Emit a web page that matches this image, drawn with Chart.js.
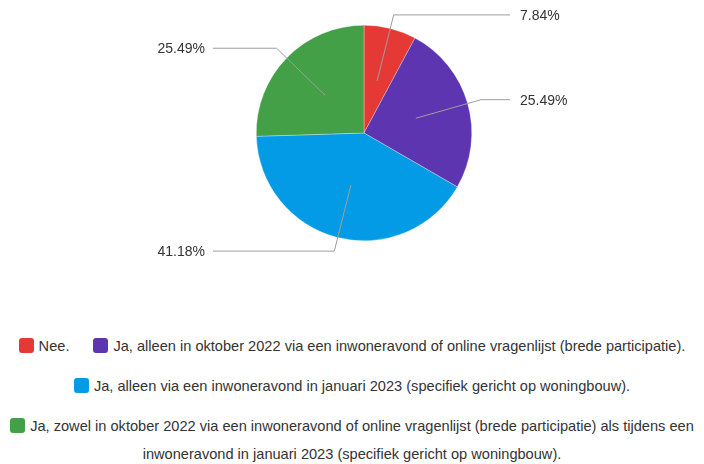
<!DOCTYPE html>
<html>
<head>
<meta charset="utf-8">
<script src="https://cdn.jsdelivr.net/npm/chart.js@4.4.0/dist/chart.umd.min.js"></script>
<style>
  html, body { margin: 0; padding: 0; background: #fff; }
  body { width: 704px; height: 464px; overflow: hidden; font-family: "Liberation Sans", Arial, sans-serif; }
  #wrap { position: relative; width: 704px; height: 266px; }
  #legend { margin-top: 66px; text-align: center; font-size: 14.6px; color: #333; line-height: 28px; }
  .item { display: inline-block; max-width: 100%; margin: 0 12px 12px; vertical-align: top; }
  .item:last-child { margin: 0 2px; max-width: 700px; }
  .box { display: inline-block; width: 15px; height: 15px; border-radius: 3px; vertical-align: -2px; margin-right: 5px; }
</style>
</head>
<body>
<div id="wrap"><canvas id="pieChart"></canvas></div>
<div id="legend"></div>
<script>
// answers and counts
const categories = [
    'Nee.',
    'Ja, alleen in oktober 2022 via een inwoneravond of online vragenlijst (brede participatie).',
    'Ja, alleen via een inwoneravond in januari 2023 (specifiek gericht op woningbouw).',
    'Ja, zowel in oktober 2022 via een inwoneravond of online vragenlijst (brede participatie) als tijdens een inwoneravond in januari 2023 (specifiek gericht op woningbouw).'
];
const counts = [4, 13, 21, 13];
const colors = ['#e53935', '#5e35b1', '#039be5', '#43a047'];

const total = counts.reduce((a, b) => a + b, 0);

// leader lines + percentage labels
const calloutPlugin = {
    id: 'callouts',
    afterDatasetsDraw(chart) {
        const ctx = chart.ctx;
        const arcs = chart.getDatasetMeta(0).data;
        ctx.save();
        arcs.forEach(function(arc, i) {
            const p = arc.getProps(['x', 'y', 'startAngle', 'endAngle', 'outerRadius'], true);
            const mid = (p.startAngle + p.endAngle) / 2;
            const cos = Math.cos(mid), sin = Math.sin(mid);
            const r = p.outerRadius;
            const x0 = p.x + cos * r * 0.5, y0 = p.y + sin * r * 0.5;
            const x1 = p.x + cos * r * 1.13, y1 = p.y + sin * r * 1.13;
            const right = cos >= 0;
            const x2 = right ? p.x + 146 : p.x - 151;
            ctx.strokeStyle = '#9e9e9e';
            ctx.lineWidth = 1;
            ctx.beginPath();
            ctx.moveTo(x0, y0);
            ctx.lineTo(x1, y1);
            ctx.lineTo(x2, y1);
            ctx.stroke();
            ctx.fillStyle = '#333';
            ctx.font = '14px "Liberation Sans", Arial, sans-serif';
            ctx.textBaseline = 'middle';
            ctx.textAlign = right ? 'left' : 'right';
            const txt = (counts[i] / total * 100).toFixed(2) + '%';
            ctx.fillText(txt, right ? x2 + 10 : x2 - 8, y1 + 1);
        });
        ctx.restore();
    }
};

document.addEventListener('DOMContentLoaded', function() {
    initializePieChart();
    buildLegend();
});

function initializePieChart() {
    const ctx = document.getElementById('pieChart').getContext('2d');
    new Chart(ctx, {
        type: 'pie',
        data: {
            labels: categories,
            datasets: [{
                data: counts,
                backgroundColor: colors,
                borderColor: 'rgba(255,255,255,0.6)',
                borderWidth: 0.5
            }]
        },
        options: {
            responsive: true,
            maintainAspectRatio: false,
            animation: false,
            layout: { padding: { left: 24, right: 0, top: 25, bottom: 25 } },
            plugins: {
                legend: { display: false },
                tooltip: { enabled: false }
            }
        },
        plugins: [calloutPlugin]
    });
}

function buildLegend() {
    const el = document.getElementById('legend');
    categories.forEach(function(label, i) {
        const item = document.createElement('span');
        item.className = 'item';
        const box = document.createElement('span');
        box.className = 'box';
        box.style.background = colors[i];
        item.appendChild(box);
        item.appendChild(document.createTextNode(label));
        el.appendChild(item);
    });
}
</script>
</body>
</html>
